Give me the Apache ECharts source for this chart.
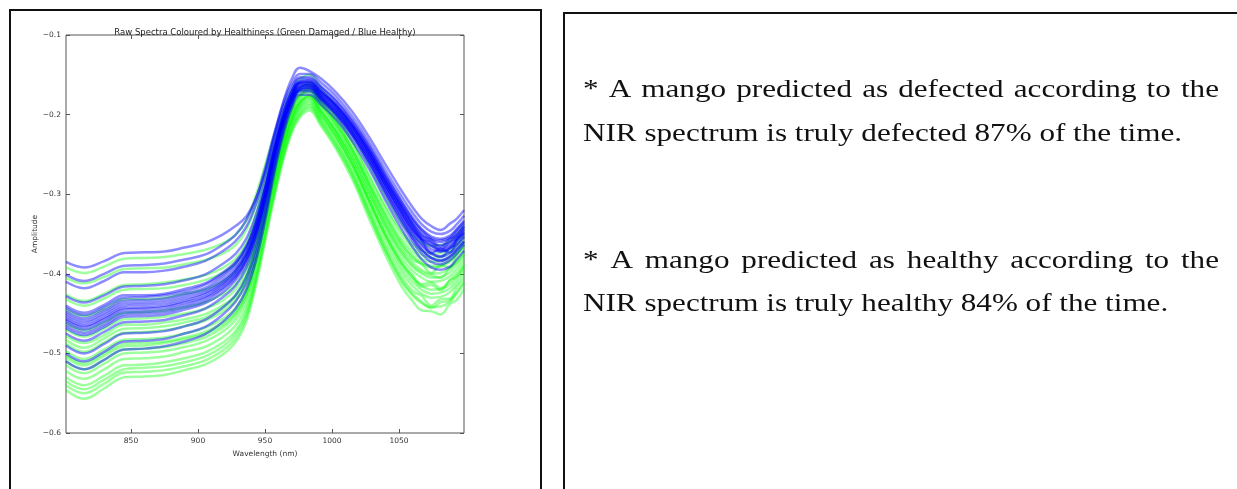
<!DOCTYPE html>
<html>
<head>
<meta charset="utf-8">
<script src="https://cdn.jsdelivr.net/npm/echarts@6/dist/echarts.min.js"></script>
<style>
html,body{margin:0;padding:0;background:#fff;}
#main{width:1237px;height:489px;}
</style>
</head>
<body>
<div id="main"></div>
<script>
// ---------- data ----------
const wavelengths = [801.5, 815, 830, 845, 860, 875, 890, 905, 918, 928, 936, 943, 950, 957, 964, 970, 976, 983, 992, 1003, 1015, 1028, 1040, 1052, 1060, 1067, 1074, 1081, 1088, 1093, 1098.5];
const xTickValues = [850, 900, 950, 1000, 1050];

// healthy (blue) spectra
const blue01 = [-0.385,-0.392,-0.384,-0.374,-0.373,-0.372,-0.367,-0.361,-0.351,-0.340,-0.328,-0.306,-0.272,-0.226,-0.182,-0.155,-0.141,-0.145,-0.155,-0.172,-0.196,-0.229,-0.263,-0.296,-0.316,-0.331,-0.340,-0.345,-0.337,-0.331,-0.320];
const blue02 = [-0.401,-0.409,-0.400,-0.390,-0.389,-0.387,-0.382,-0.376,-0.364,-0.351,-0.333,-0.307,-0.268,-0.223,-0.184,-0.161,-0.149,-0.149,-0.160,-0.177,-0.202,-0.235,-0.270,-0.303,-0.323,-0.338,-0.347,-0.350,-0.346,-0.338,-0.327];
const blue03 = [-0.410,-0.418,-0.409,-0.398,-0.398,-0.396,-0.391,-0.384,-0.372,-0.359,-0.341,-0.314,-0.275,-0.228,-0.189,-0.166,-0.153,-0.153,-0.165,-0.182,-0.207,-0.240,-0.276,-0.310,-0.331,-0.345,-0.355,-0.358,-0.354,-0.345,-0.335];
const blue04 = [-0.428,-0.436,-0.427,-0.416,-0.415,-0.413,-0.408,-0.401,-0.388,-0.375,-0.356,-0.327,-0.286,-0.237,-0.196,-0.171,-0.158,-0.158,-0.170,-0.187,-0.212,-0.245,-0.281,-0.315,-0.336,-0.352,-0.357,-0.366,-0.356,-0.352,-0.340];
const blue05 = [-0.440,-0.449,-0.439,-0.427,-0.427,-0.425,-0.419,-0.412,-0.399,-0.385,-0.365,-0.336,-0.293,-0.243,-0.200,-0.175,-0.161,-0.161,-0.173,-0.190,-0.215,-0.249,-0.285,-0.319,-0.340,-0.355,-0.365,-0.368,-0.364,-0.355,-0.345];
const blue06 = [-0.447,-0.456,-0.446,-0.434,-0.433,-0.431,-0.425,-0.418,-0.404,-0.390,-0.369,-0.338,-0.294,-0.241,-0.196,-0.170,-0.155,-0.155,-0.166,-0.183,-0.208,-0.241,-0.276,-0.309,-0.329,-0.344,-0.353,-0.356,-0.352,-0.344,-0.333];
const blue07 = [-0.453,-0.462,-0.452,-0.440,-0.439,-0.437,-0.431,-0.424,-0.411,-0.396,-0.375,-0.345,-0.301,-0.248,-0.204,-0.178,-0.163,-0.163,-0.175,-0.192,-0.218,-0.252,-0.289,-0.323,-0.345,-0.358,-0.374,-0.369,-0.373,-0.358,-0.349];
const blue08 = [-0.458,-0.467,-0.457,-0.445,-0.444,-0.442,-0.436,-0.429,-0.415,-0.401,-0.380,-0.349,-0.305,-0.252,-0.207,-0.181,-0.166,-0.166,-0.178,-0.196,-0.222,-0.256,-0.293,-0.328,-0.350,-0.365,-0.375,-0.378,-0.374,-0.365,-0.354];
const blue09 = [-0.465,-0.474,-0.464,-0.451,-0.450,-0.448,-0.442,-0.434,-0.420,-0.405,-0.383,-0.351,-0.305,-0.249,-0.203,-0.176,-0.160,-0.160,-0.172,-0.189,-0.214,-0.248,-0.284,-0.317,-0.339,-0.356,-0.360,-0.370,-0.360,-0.355,-0.343];
const blue10 = [-0.475,-0.484,-0.473,-0.461,-0.460,-0.458,-0.452,-0.444,-0.430,-0.415,-0.393,-0.361,-0.314,-0.259,-0.212,-0.185,-0.169,-0.169,-0.181,-0.199,-0.225,-0.260,-0.297,-0.332,-0.354,-0.370,-0.380,-0.383,-0.378,-0.370,-0.359];
const blue11 = [-0.500,-0.510,-0.498,-0.485,-0.484,-0.482,-0.475,-0.467,-0.452,-0.435,-0.412,-0.377,-0.327,-0.268,-0.218,-0.188,-0.171,-0.171,-0.184,-0.201,-0.228,-0.263,-0.301,-0.337,-0.359,-0.375,-0.385,-0.388,-0.383,-0.375,-0.363];
const blue12 = [-0.510,-0.520,-0.508,-0.495,-0.494,-0.491,-0.485,-0.476,-0.461,-0.444,-0.420,-0.385,-0.334,-0.273,-0.223,-0.192,-0.175,-0.175,-0.188,-0.206,-0.233,-0.269,-0.308,-0.344,-0.366,-0.382,-0.392,-0.395,-0.391,-0.382,-0.371];
const blue13 = [-0.443,-0.452,-0.442,-0.430,-0.429,-0.427,-0.422,-0.414,-0.401,-0.387,-0.367,-0.337,-0.294,-0.242,-0.199,-0.173,-0.159,-0.157,-0.170,-0.187,-0.212,-0.245,-0.280,-0.313,-0.333,-0.348,-0.357,-0.360,-0.356,-0.348,-0.337];
const blue14 = [-0.450,-0.459,-0.449,-0.437,-0.436,-0.434,-0.428,-0.421,-0.408,-0.394,-0.374,-0.343,-0.300,-0.248,-0.205,-0.179,-0.165,-0.163,-0.177,-0.194,-0.219,-0.252,-0.288,-0.322,-0.343,-0.357,-0.364,-0.372,-0.366,-0.357,-0.347];
const blue15 = [-0.456,-0.465,-0.455,-0.443,-0.442,-0.440,-0.434,-0.426,-0.413,-0.398,-0.377,-0.346,-0.301,-0.247,-0.203,-0.176,-0.161,-0.159,-0.173,-0.189,-0.214,-0.247,-0.283,-0.316,-0.337,-0.351,-0.361,-0.364,-0.360,-0.351,-0.341];
const blue16 = [-0.461,-0.470,-0.460,-0.448,-0.447,-0.445,-0.439,-0.431,-0.418,-0.403,-0.383,-0.352,-0.307,-0.254,-0.209,-0.183,-0.168,-0.166,-0.180,-0.197,-0.223,-0.257,-0.293,-0.327,-0.348,-0.363,-0.373,-0.379,-0.368,-0.363,-0.352];
const blue17 = [-0.468,-0.477,-0.467,-0.454,-0.453,-0.451,-0.445,-0.437,-0.424,-0.408,-0.387,-0.355,-0.309,-0.254,-0.208,-0.180,-0.165,-0.163,-0.177,-0.194,-0.219,-0.253,-0.289,-0.323,-0.344,-0.359,-0.369,-0.372,-0.368,-0.359,-0.349];
const blue18 = [-0.490,-0.500,-0.488,-0.475,-0.474,-0.472,-0.466,-0.458,-0.443,-0.427,-0.404,-0.370,-0.322,-0.263,-0.215,-0.185,-0.169,-0.167,-0.181,-0.199,-0.225,-0.260,-0.298,-0.333,-0.355,-0.370,-0.380,-0.384,-0.379,-0.370,-0.360];

// damaged (green) spectra
const green01 = [-0.392,-0.399,-0.391,-0.381,-0.380,-0.379,-0.375,-0.370,-0.362,-0.351,-0.333,-0.302,-0.264,-0.225,-0.191,-0.169,-0.156,-0.150,-0.167,-0.191,-0.223,-0.266,-0.305,-0.337,-0.352,-0.361,-0.365,-0.364,-0.359,-0.350,-0.339];
const green02 = [-0.405,-0.412,-0.404,-0.394,-0.393,-0.392,-0.388,-0.383,-0.375,-0.364,-0.345,-0.315,-0.276,-0.237,-0.203,-0.181,-0.168,-0.162,-0.179,-0.203,-0.234,-0.277,-0.315,-0.347,-0.362,-0.371,-0.375,-0.374,-0.369,-0.360,-0.349];
const green03 = [-0.432,-0.440,-0.431,-0.420,-0.419,-0.418,-0.414,-0.408,-0.399,-0.387,-0.367,-0.334,-0.292,-0.250,-0.213,-0.189,-0.175,-0.168,-0.185,-0.209,-0.242,-0.285,-0.324,-0.357,-0.372,-0.381,-0.385,-0.384,-0.379,-0.370,-0.359];
const green04 = [-0.445,-0.453,-0.444,-0.432,-0.432,-0.430,-0.425,-0.420,-0.410,-0.397,-0.376,-0.341,-0.297,-0.252,-0.213,-0.187,-0.172,-0.165,-0.183,-0.208,-0.242,-0.287,-0.327,-0.361,-0.377,-0.386,-0.390,-0.389,-0.383,-0.374,-0.363];
const green05 = [-0.462,-0.471,-0.461,-0.449,-0.448,-0.446,-0.442,-0.436,-0.426,-0.413,-0.391,-0.355,-0.308,-0.262,-0.221,-0.195,-0.179,-0.172,-0.190,-0.214,-0.248,-0.292,-0.333,-0.366,-0.382,-0.388,-0.399,-0.390,-0.392,-0.377,-0.368];
const green06 = [-0.478,-0.487,-0.477,-0.464,-0.464,-0.461,-0.457,-0.451,-0.440,-0.427,-0.404,-0.366,-0.317,-0.269,-0.227,-0.199,-0.183,-0.175,-0.193,-0.219,-0.253,-0.299,-0.341,-0.375,-0.391,-0.400,-0.405,-0.404,-0.398,-0.389,-0.377];
const green07 = [-0.488,-0.498,-0.486,-0.474,-0.473,-0.471,-0.466,-0.459,-0.448,-0.434,-0.410,-0.370,-0.320,-0.269,-0.224,-0.195,-0.178,-0.170,-0.188,-0.214,-0.248,-0.294,-0.336,-0.370,-0.386,-0.395,-0.400,-0.399,-0.393,-0.384,-0.372];
const green08 = [-0.497,-0.507,-0.495,-0.483,-0.482,-0.480,-0.475,-0.468,-0.457,-0.443,-0.419,-0.379,-0.328,-0.277,-0.232,-0.204,-0.186,-0.178,-0.197,-0.222,-0.257,-0.303,-0.345,-0.380,-0.396,-0.405,-0.410,-0.409,-0.403,-0.394,-0.382];
const green09 = [-0.505,-0.515,-0.503,-0.491,-0.490,-0.487,-0.482,-0.476,-0.465,-0.450,-0.426,-0.386,-0.334,-0.282,-0.237,-0.208,-0.190,-0.182,-0.201,-0.227,-0.262,-0.309,-0.352,-0.387,-0.404,-0.416,-0.414,-0.421,-0.408,-0.404,-0.390];
const green10 = [-0.515,-0.525,-0.513,-0.500,-0.499,-0.497,-0.492,-0.485,-0.473,-0.458,-0.433,-0.391,-0.337,-0.284,-0.237,-0.207,-0.188,-0.180,-0.200,-0.227,-0.263,-0.312,-0.356,-0.393,-0.410,-0.420,-0.425,-0.424,-0.418,-0.408,-0.396];
const green11 = [-0.522,-0.532,-0.520,-0.507,-0.506,-0.504,-0.498,-0.492,-0.480,-0.465,-0.440,-0.398,-0.344,-0.290,-0.243,-0.213,-0.194,-0.186,-0.206,-0.232,-0.269,-0.318,-0.362,-0.398,-0.415,-0.425,-0.430,-0.429,-0.423,-0.413,-0.401];
const green12 = [-0.530,-0.540,-0.528,-0.515,-0.514,-0.511,-0.506,-0.499,-0.487,-0.472,-0.446,-0.404,-0.349,-0.294,-0.246,-0.215,-0.197,-0.188,-0.208,-0.235,-0.272,-0.322,-0.367,-0.404,-0.421,-0.428,-0.440,-0.432,-0.431,-0.417,-0.406];
const green13 = [-0.540,-0.550,-0.538,-0.524,-0.523,-0.521,-0.516,-0.509,-0.497,-0.481,-0.455,-0.411,-0.356,-0.300,-0.251,-0.220,-0.201,-0.192,-0.212,-0.240,-0.277,-0.327,-0.372,-0.410,-0.427,-0.437,-0.442,-0.441,-0.435,-0.425,-0.412];
const green14 = [-0.546,-0.557,-0.544,-0.530,-0.529,-0.527,-0.521,-0.514,-0.502,-0.486,-0.460,-0.416,-0.360,-0.304,-0.255,-0.223,-0.204,-0.195,-0.215,-0.243,-0.281,-0.332,-0.377,-0.416,-0.434,-0.446,-0.447,-0.451,-0.438,-0.433,-0.419];
const green15 = [-0.470,-0.479,-0.469,-0.457,-0.456,-0.454,-0.450,-0.444,-0.434,-0.420,-0.399,-0.362,-0.315,-0.269,-0.228,-0.201,-0.185,-0.178,-0.196,-0.221,-0.254,-0.299,-0.339,-0.373,-0.389,-0.398,-0.402,-0.405,-0.392,-0.386,-0.375];
const green16 = [-0.483,-0.493,-0.481,-0.469,-0.468,-0.466,-0.461,-0.455,-0.444,-0.429,-0.406,-0.366,-0.316,-0.266,-0.222,-0.193,-0.176,-0.168,-0.186,-0.211,-0.244,-0.289,-0.329,-0.363,-0.379,-0.388,-0.392,-0.391,-0.385,-0.376,-0.365];
const green17 = [-0.502,-0.512,-0.500,-0.488,-0.487,-0.485,-0.480,-0.473,-0.462,-0.448,-0.424,-0.384,-0.334,-0.283,-0.238,-0.209,-0.192,-0.184,-0.203,-0.228,-0.263,-0.309,-0.350,-0.385,-0.401,-0.413,-0.411,-0.418,-0.408,-0.399,-0.387];
const green18 = [-0.510,-0.520,-0.508,-0.495,-0.494,-0.492,-0.487,-0.480,-0.468,-0.453,-0.428,-0.386,-0.333,-0.280,-0.233,-0.203,-0.184,-0.176,-0.196,-0.222,-0.259,-0.308,-0.352,-0.388,-0.405,-0.415,-0.420,-0.419,-0.413,-0.403,-0.391];
const green19 = [-0.426,-0.434,-0.425,-0.414,-0.413,-0.411,-0.407,-0.402,-0.393,-0.381,-0.361,-0.328,-0.285,-0.243,-0.205,-0.181,-0.167,-0.160,-0.178,-0.202,-0.235,-0.279,-0.318,-0.351,-0.367,-0.376,-0.380,-0.379,-0.373,-0.365,-0.354];
const green20 = [-0.535,-0.545,-0.533,-0.520,-0.518,-0.516,-0.511,-0.504,-0.492,-0.476,-0.451,-0.407,-0.352,-0.297,-0.249,-0.218,-0.199,-0.190,-0.210,-0.238,-0.275,-0.325,-0.370,-0.408,-0.425,-0.435,-0.443,-0.436,-0.433,-0.423,-0.410];

const healthySpectra = [blue01, blue02, blue03, blue04, blue05, blue06, blue07, blue08, blue09, blue10, blue11, blue12, blue13, blue14, blue15, blue16, blue17, blue18];
const damagedSpectra = [green01, green02, green03, green04, green05, green06, green07, green08, green09, green10, green11, green12, green13, green14, green15, green16, green17, green18, green19, green20];

const chartTitle = 'Raw Spectra Coloured by Healthiness (Green Damaged / Blue Healthy)';
const xName = 'Wavelength (nm)';
const yName = 'Amplitude';
const noteLines = [
  '* A mango predicted as defected according to the',
  'NIR spectrum is truly defected 87% of the time.',
  '* A mango predicted as healthy according to the',
  'NIR spectrum is truly healthy 84% of the time.'
];

// ---------- chart ----------
const chart = echarts.init(document.getElementById('main'), null, {renderer: 'canvas'});

function mkSeries(arr, color, op) {
  return {
    type: 'line',
    data: arr.map((v, i) => [wavelengths[i], v]),
    showSymbol: false,
    symbol: 'none',
    smooth: 0.4,
    silent: true,
    lineStyle: {width: 2.5, color: color, opacity: op},
    emphasis: {disabled: true}
  };
}
const series = [];
damagedSpectra.forEach(a => series.push(mkSeries(a, '#00ff00', 0.38)));
healthySpectra.forEach(a => series.push(mkSeries(a, '#0000ff', 0.45)));

const axisFont = 'DejaVu Sans';
const tickCol = '#555';
const minusFmt = v => (Math.round(v * 10) / 10).toFixed(1).replace('-', '\u2212');

// text panel layout (measured for justification)
const FS = 26;
const SERIF = '"Liberation Serif"';
const mctx = document.createElement('canvas').getContext('2d');
mctx.font = FS + 'px ' + SERIF;
const textLeft = 583, textRight = 1219, line2Right = 1182;
const sx = (line2Right - textLeft) / mctx.measureText(noteLines[1]).width;
const lineYs = [90, 134, 261, 304];
const justify = [true, false, true, false];
const textGraphics = [];
noteLines.forEach((line, li) => {
  if (justify[li]) {
    const words = line.split(' ');
    const ws = words.map(w => mctx.measureText(w).width * sx);
    const total = ws.reduce((a, b) => a + b, 0);
    const gap = (textRight - textLeft - total) / (words.length - 1);
    let x = textLeft;
    words.forEach((w, wi) => {
      textGraphics.push({type: 'text', x: x, y: lineYs[li], scaleX: sx, scaleY: 1,
        style: {text: w, x: 0, y: 0, font: FS + 'px ' + SERIF, fill: '#111', textVerticalAlign: 'middle', textAlign: 'left'}});
      x += ws[wi] + gap;
    });
  } else {
    textGraphics.push({type: 'text', x: textLeft, y: lineYs[li], scaleX: sx, scaleY: 1,
      style: {text: line, x: 0, y: 0, font: FS + 'px ' + SERIF, fill: '#111', textVerticalAlign: 'middle', textAlign: 'left'}});
  }
});

const option = {
  animation: false,
  backgroundColor: '#fff',
  title: {
    text: chartTitle,
    left: 260, top: 23, textAlign: 'center',
    textStyle: {fontSize: 8.5, fontWeight: 'normal', fontFamily: axisFont, color: '#222'}
  },
  grid: {left: 66, top: 35, right: 773, bottom: 56, show: true, borderColor: '#555', borderWidth: 1, backgroundColor: 'transparent'},
  xAxis: [{
    type: 'value', min: 801.5, max: 1098.5,
    axisLine: {show: false}, splitLine: {show: false},
    axisTick: {show: true, inside: true, length: 4, customValues: xTickValues, lineStyle: {color: tickCol}},
    axisLabel: {customValues: xTickValues, formatter: v => String(v), fontSize: 7.5, color: '#333', margin: 4, fontFamily: axisFont},
    name: xName, nameLocation: 'middle', nameGap: 13,
    nameTextStyle: {fontSize: 7.5, color: '#333', fontFamily: axisFont}
  }, {
    type: 'value', position: 'top', min: 801.5, max: 1098.5,
    axisLine: {show: false}, splitLine: {show: false},
    axisTick: {show: true, inside: true, length: 4, customValues: xTickValues, lineStyle: {color: tickCol}},
    axisLabel: {show: false}
  }],
  yAxis: [{
    type: 'value', min: -0.6, max: -0.1, interval: 0.1,
    axisLine: {show: false}, splitLine: {show: false},
    axisTick: {show: true, inside: true, length: 4, lineStyle: {color: tickCol}},
    axisLabel: {formatter: minusFmt, fontSize: 7.5, color: '#333', margin: 5, fontFamily: axisFont},
    name: yName, nameLocation: 'middle', nameGap: 24, nameRotate: 90,
    nameTextStyle: {fontSize: 7.5, color: '#333', fontFamily: axisFont}
  }, {
    type: 'value', position: 'right', min: -0.6, max: -0.1, interval: 0.1,
    axisLine: {show: false}, splitLine: {show: false},
    axisTick: {show: true, inside: true, length: 4, lineStyle: {color: tickCol}},
    axisLabel: {show: false}
  }],
  series: series,
  graphic: [
    {type: 'rect', shape: {x: 10, y: 10, width: 531, height: 520}, style: {fill: 'none', stroke: '#111', lineWidth: 2}, silent: true},
    {type: 'rect', shape: {x: 564, y: 13, width: 700, height: 520}, style: {fill: 'none', stroke: '#111', lineWidth: 2}, silent: true}
  ].concat(textGraphics)
};
chart.setOption(option);
</script>
</body>
</html>
